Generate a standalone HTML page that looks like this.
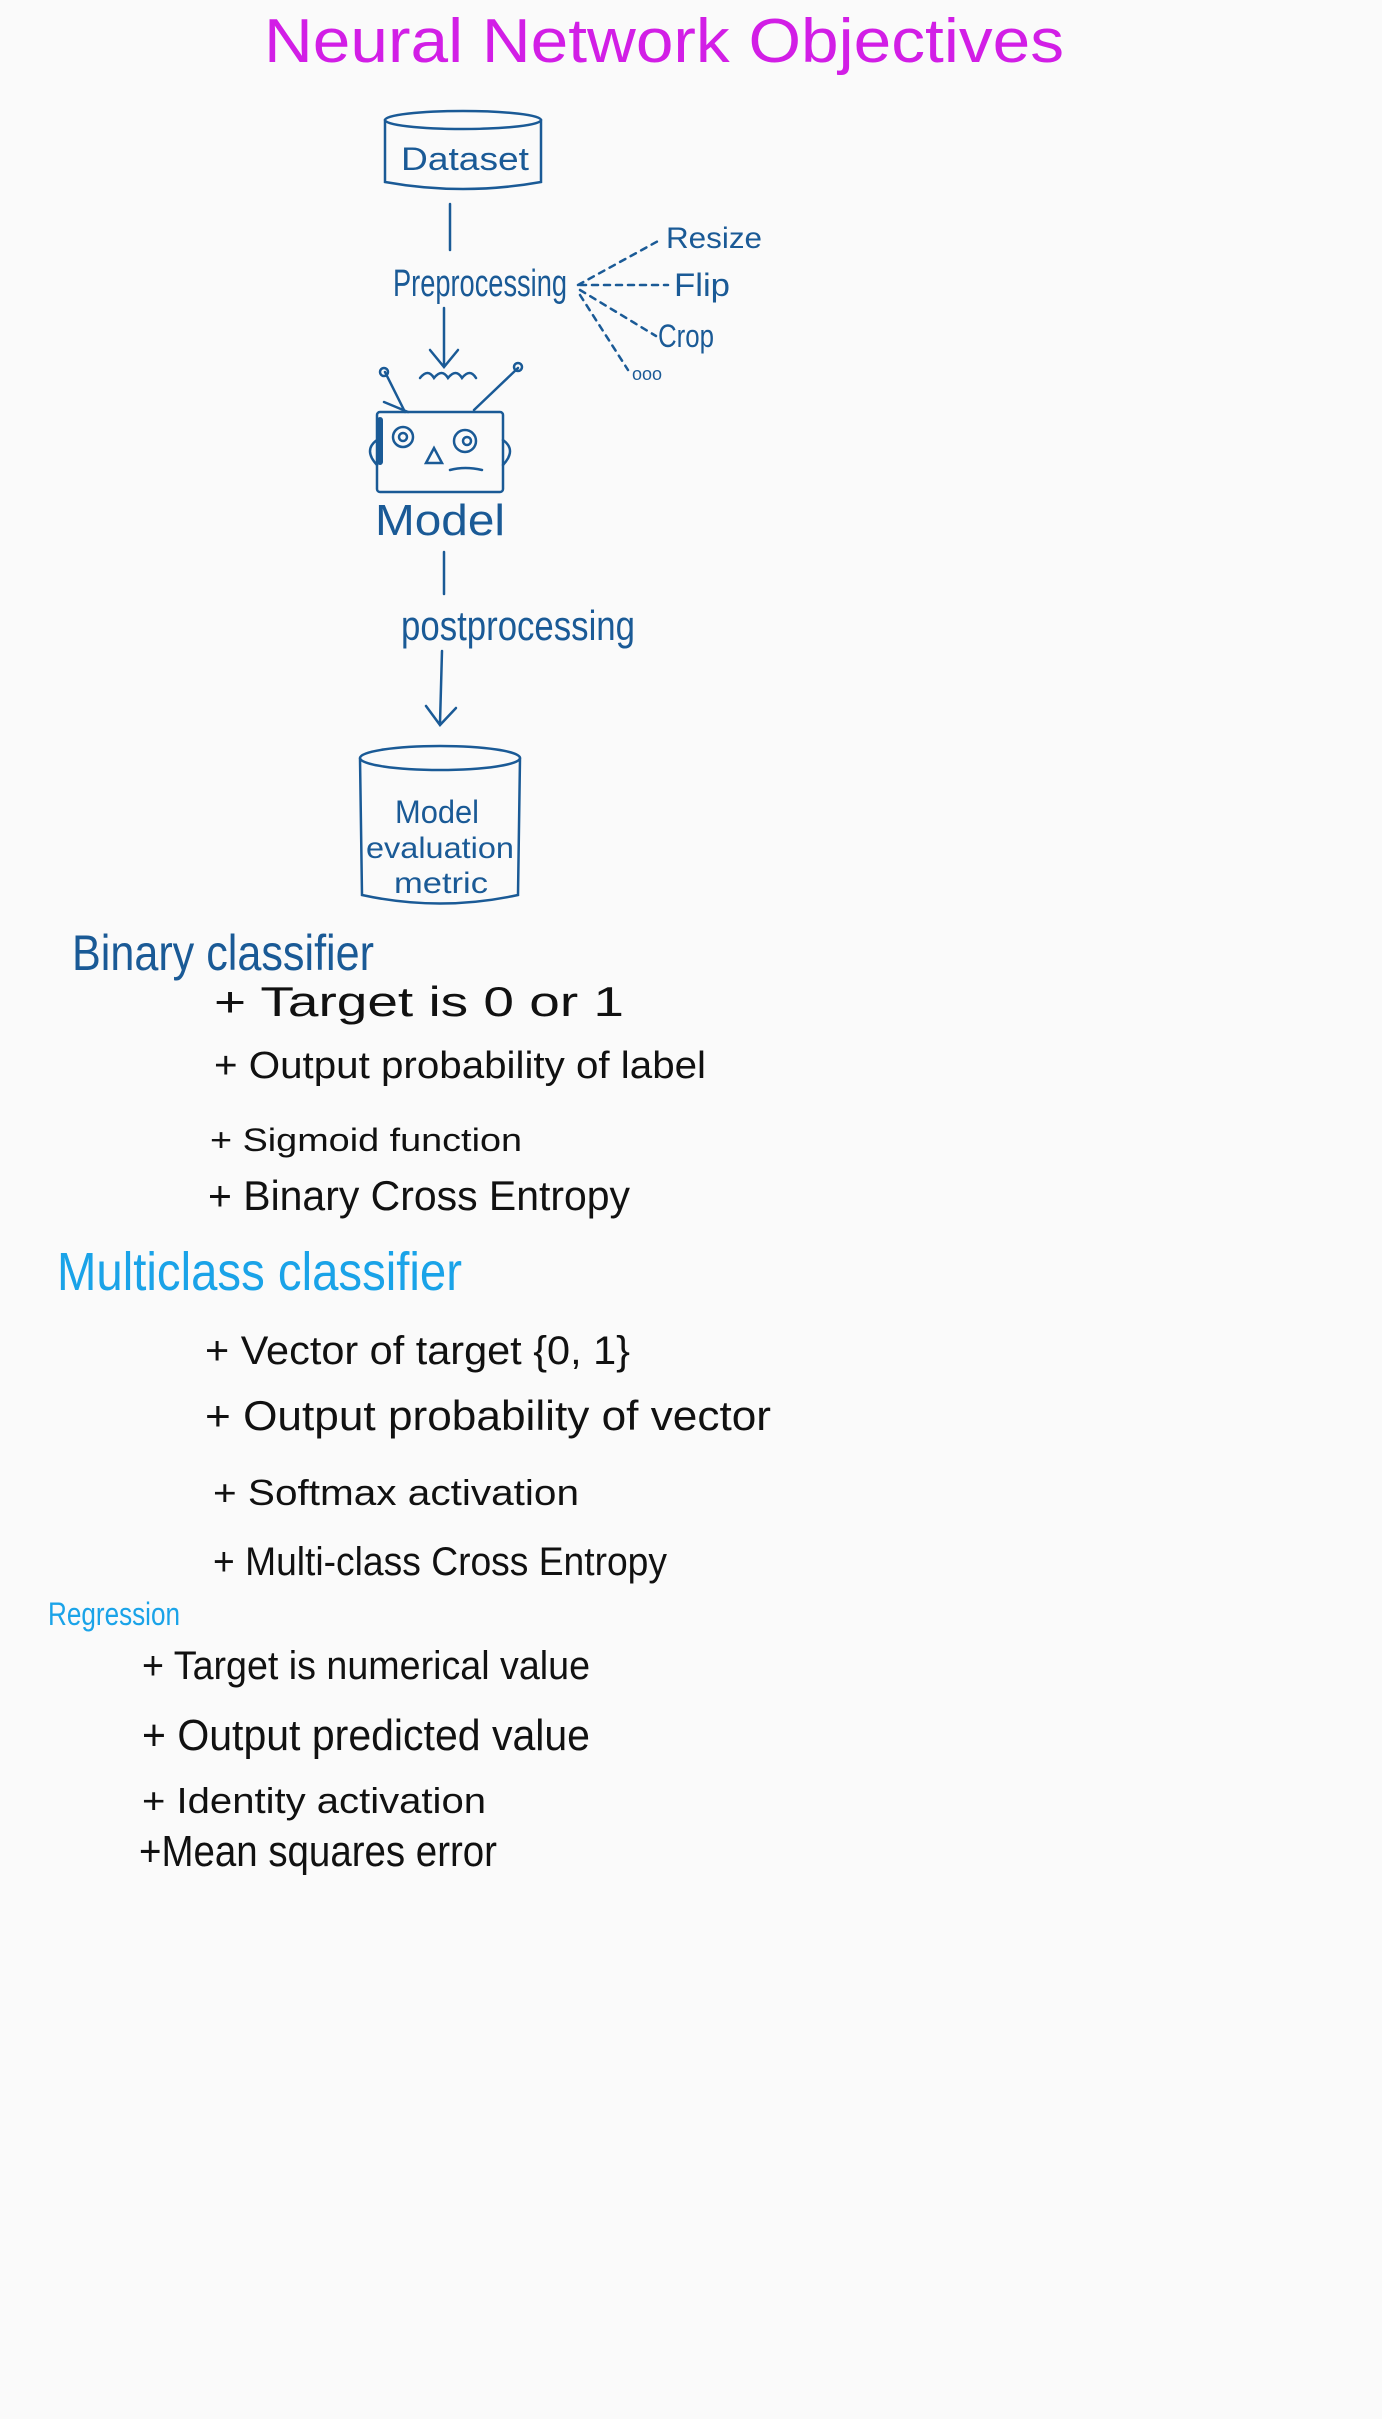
<!DOCTYPE html>
<html><head><meta charset="utf-8"><style>
html,body{margin:0;padding:0;background:#fafafa;}
svg{display:block}
text{font-family:"Liberation Sans",sans-serif;}
</style></head><body>
<svg width="1382" height="2419" viewBox="0 0 1382 2419" xmlns="http://www.w3.org/2000/svg">
<rect width="1382" height="2419" fill="#fafafa"/>
<text x="264" y="62" font-size="62" fill="#d21ee6" textLength="800" lengthAdjust="spacingAndGlyphs" font-weight="300">Neural Network Objectives</text>

<g fill="none" stroke="#1a5a96" stroke-width="2.5" stroke-linecap="round">
<!-- dataset cylinder -->
<ellipse cx="463" cy="120" rx="78" ry="9"/>
<path d="M385 120 L385 182 Q463 196 541 182 L541 120"/>
<line x1="450" y1="204" x2="450" y2="250"/>
<!-- preprocessing dashes -->
<g stroke-dasharray="6 6">
<line x1="578" y1="285" x2="660" y2="240"/>
<line x1="580" y1="285" x2="668" y2="285"/>
<line x1="580" y1="290" x2="656" y2="336"/>
<line x1="580" y1="295" x2="628" y2="370"/>
</g>
<path d="M444 308 L444 365 M430 350 L444 367 L458 350"/>
<!-- robot -->
<rect x="377" y="412" width="126" height="80" rx="3"/>
<path d="M384 402 L408 412 M385 372 L405 412"/>
<circle cx="384" cy="372" r="4"/>
<path d="M518 368 L474 410"/><circle cx="518" cy="367" r="4"/>
<path d="M420 378 q8 -10 14 0 q8 -10 14 0 q8 -10 14 0 q8 -10 14 0"/>
<circle cx="403" cy="437" r="10"/><circle cx="403" cy="437" r="4"/>
<circle cx="465" cy="441" r="11"/><circle cx="467" cy="441" r="4"/>
<path d="M426 463 L434 448 L442 463 Z"/>
<path d="M450 470 Q465 466 482 470"/>
<path d="M377 440 q-14 10 0 25 M503 440 q14 10 0 25"/>
<line x1="380" y1="420" x2="380" y2="462" stroke-width="6"/>
<line x1="444" y1="552" x2="444" y2="594"/>
<path d="M442 651 L440 723 M426 706 L440 725 L456 708"/>
<!-- eval cylinder -->
<ellipse cx="440" cy="758" rx="80" ry="12"/>
<path d="M360 758 L362 895 Q440 912 518 895 L520 758"/>
</g>
<g fill="#1a5a96" font-weight="300">
<text x="401" y="170" font-size="32" textLength="128" lengthAdjust="spacingAndGlyphs">Dataset</text>
<text x="393" y="296" font-size="38" textLength="174" lengthAdjust="spacingAndGlyphs">Preprocessing</text>
<text x="666" y="248" font-size="30" textLength="96" lengthAdjust="spacingAndGlyphs">Resize</text>
<text x="674" y="296" font-size="32" textLength="56" lengthAdjust="spacingAndGlyphs">Flip</text>
<text x="658" y="347" font-size="32" textLength="56" lengthAdjust="spacingAndGlyphs">Crop</text>
<text x="632" y="380" font-size="18">ooo</text>
<text x="375" y="535" font-size="44" textLength="130" lengthAdjust="spacingAndGlyphs">Model</text>
<text x="401" y="640" font-size="42" textLength="234" lengthAdjust="spacingAndGlyphs">postprocessing</text>
<text x="395" y="823" font-size="32" textLength="84" lengthAdjust="spacingAndGlyphs">Model</text>
<text x="366" y="858" font-size="30" textLength="148" lengthAdjust="spacingAndGlyphs">evaluation</text>
<text x="394" y="893" font-size="30" textLength="94" lengthAdjust="spacingAndGlyphs">metric</text>
<text x="72" y="970" font-size="50" textLength="302" lengthAdjust="spacingAndGlyphs">Binary classifier</text>
</g>
<g fill="#111" font-weight="300">
<text x="214" y="1016" font-size="42" textLength="410" lengthAdjust="spacingAndGlyphs">+ Target is  0 or  1</text>
<text x="214" y="1078" font-size="38" textLength="492" lengthAdjust="spacingAndGlyphs">+ Output probability of label</text>
<text x="210" y="1151" font-size="32" textLength="312" lengthAdjust="spacingAndGlyphs">+ Sigmoid  function</text>
<text x="208" y="1210" font-size="42" textLength="422" lengthAdjust="spacingAndGlyphs">+ Binary Cross Entropy</text>
</g>
<text x="57" y="1290" font-size="54" fill="#1aa3e8" font-weight="300" textLength="405" lengthAdjust="spacingAndGlyphs">Multiclass  classifier</text>
<g fill="#111" font-weight="300">
<text x="205" y="1364" font-size="40" textLength="425" lengthAdjust="spacingAndGlyphs">+  Vector of target {0, 1}</text>
<text x="205" y="1430" font-size="42" textLength="566" lengthAdjust="spacingAndGlyphs">+  Output probability of vector</text>
<text x="213" y="1505" font-size="36" textLength="366" lengthAdjust="spacingAndGlyphs">+ Softmax activation</text>
<text x="213" y="1575" font-size="40" textLength="454" lengthAdjust="spacingAndGlyphs">+ Multi-class Cross Entropy</text>
</g>
<text x="48" y="1625" font-size="32" fill="#1aa3e8" font-weight="300" textLength="132" lengthAdjust="spacingAndGlyphs">Regression</text>
<g fill="#111" font-weight="300">
<text x="142" y="1679" font-size="40" textLength="448" lengthAdjust="spacingAndGlyphs">+  Target is numerical value</text>
<text x="142" y="1750" font-size="44" textLength="448" lengthAdjust="spacingAndGlyphs">+ Output predicted value</text>
<text x="142" y="1813" font-size="36" textLength="344" lengthAdjust="spacingAndGlyphs">+ Identity activation</text>
<text x="139" y="1866" font-size="44" textLength="358" lengthAdjust="spacingAndGlyphs">+Mean squares error</text>
</g>
</svg>
</body></html>
